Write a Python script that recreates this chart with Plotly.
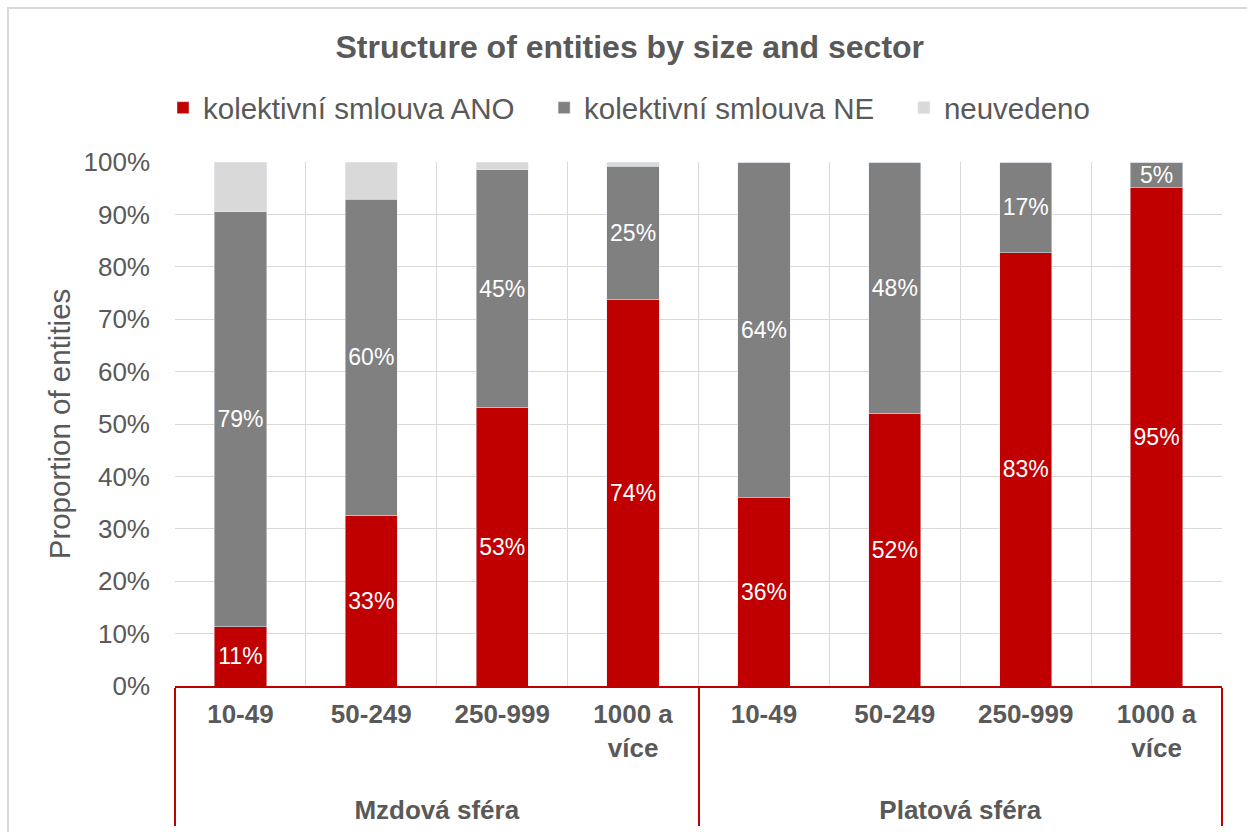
import plotly.graph_objects as go

# Sector / size-class categories
sectors = ["Mzdová sféra"] * 4 + ["Platová sféra"] * 4
sizes = ["10-49", "50-249", "250-999", "1000 a<br>více<br>\u00a0"] * 2

# Shares of entities (percent)
ano = [11.3, 32.6, 53.2, 73.8, 35.9, 52.1, 82.7, 95.1]
ne = [79.2, 60.3, 45.3, 25.4, 64.1, 47.9, 17.3, 4.9]
neuvedeno = [9.5, 7.1, 1.5, 0.8, 0.0, 0.0, 0.0, 0.0]

FONT = "Liberation Sans, Arial, sans-serif"
GREY_TXT = "#595959"
PAD = "\u00a0" * 3  # spacing between legend entries

W, H = 1247, 832
L, R, T, B = 175, 25, 162, 146
pw, ph = W - L - R, H - T - B


def px_to_paper_x(px):
    return (px - L) / pw


def px_to_paper_y(py):
    return (H - B - py) / ph


x = [sectors, sizes]

fig = go.Figure()
fig.add_trace(go.Bar(
    x=x, y=[v / 100 for v in ano], name="kolektivní smlouva ANO" + PAD,
    marker=dict(color="#c00000"),
    text=[f"{round(v)}%" for v in ano], textposition="inside",
    insidetextanchor="middle", constraintext="none",
    textfont=dict(color="white", size=23, family=FONT),
))
fig.add_trace(go.Bar(
    x=x, y=[v / 100 for v in ne], name="kolektivní smlouva NE" + PAD,
    marker=dict(color="#808080"),
    text=[f"{round(v)}%" for v in ne], textposition="inside",
    insidetextanchor="middle", constraintext="none",
    textfont=dict(color="white", size=23, family=FONT),
))
fig.add_trace(go.Bar(
    x=x, y=[v / 100 for v in neuvedeno], name="neuvedeno",
    marker=dict(color="#d9d9d9"),
    hoverinfo="skip",
))

# Outer chart border
fig.add_shape(
    type="rect", xref="paper", yref="paper",
    x0=px_to_paper_x(8), x1=px_to_paper_x(W + 20),
    y0=px_to_paper_y(H + 20), y1=px_to_paper_y(8),
    line=dict(color="#d9d9d9", width=2), fillcolor="rgba(0,0,0,0)",
    layer="below",
)

fig.update_layout(
    width=W, height=H,
    margin=dict(l=L, r=R, t=T, b=B),
    paper_bgcolor="white", plot_bgcolor="white",
    barmode="stack", bargap=0.6,
    font=dict(family=FONT, color=GREY_TXT),
    title=dict(
        text="<b>Structure of entities by size and sector</b>",
        x=0.505, xref="container", xanchor="center",
        y=1 - 47 / H, yref="container", yanchor="middle",
        font=dict(size=32, color=GREY_TXT, family=FONT),
    ),
    legend=dict(
        orientation="h", x=px_to_paper_x(629), xanchor="center",
        y=px_to_paper_y(108), yanchor="middle",
        font=dict(size=29.5, color=GREY_TXT, family=FONT),
        traceorder="normal", itemwidth=30,
    ),
    showlegend=True,
)

fig.update_xaxes(
    type="multicategory",
    tickson="boundaries",
    automargin=False,
    showgrid=True, gridcolor="#d9d9d9", gridwidth=1,
    showline=True, linecolor="#c00000", linewidth=2,
    showdividers=True, dividercolor="#c00000", dividerwidth=2,
    ticks="", ticklabelstandoff=4,
    tickfont=dict(size=26, color=GREY_TXT, family=FONT, weight="bold"),
)
fig.update_yaxes(
    range=[0, 1], dtick=0.1, tickformat=".0%",
    showgrid=True, gridcolor="#d9d9d9", gridwidth=1,
    zeroline=False, showline=False,
    tickfont=dict(size=26, color=GREY_TXT, family=FONT),
    ticklabelstandoff=24,
    title=dict(text="Proportion of entities", font=dict(size=29.5, color=GREY_TXT, family=FONT),
               standoff=4),
)

fig.write_html("out.html")
